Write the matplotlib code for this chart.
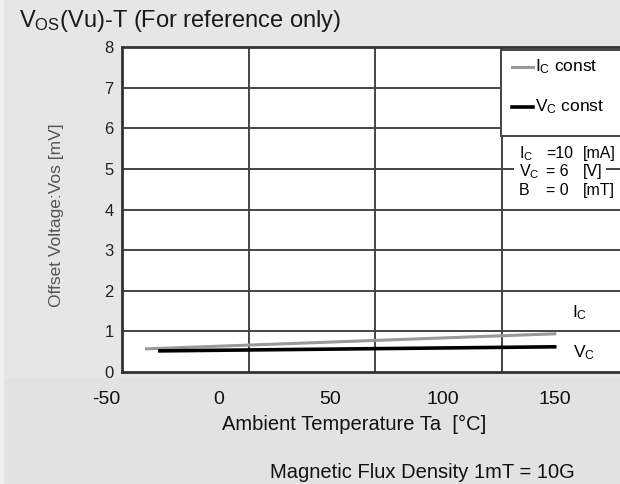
import matplotlib
matplotlib.use("Agg")
import matplotlib.pyplot as plt
from matplotlib.patches import Rectangle
from matplotlib.transforms import blended_transform_factory

plt.rcParams['font.family'] = ['Liberation Sans', 'DejaVu Sans']
plt.rcParams['mathtext.fontset'] = 'custom'
plt.rcParams['mathtext.rm'] = 'Liberation Sans'
plt.rcParams['mathtext.it'] = 'Liberation Sans'

# data (x in degC, y in mV)
ic_temp = [-32, 150]
ic_vos = [0.57, 0.94]
vc_temp = [-26, 150]
vc_vos = [0.52, 0.62]
x_ticks = [-50, 0, 50, 100, 150]
y_ticks = [0, 1, 2, 3, 4, 5, 6, 7, 8]
grid_x = [13.7, 69.8, 126.4]   # vertical grid of the original image, not on the labels

W, H = 620, 484

def fx(px):
    return px / W

def fy(py):
    return 1 - py / H

fig = plt.figure(figsize=(6.2, 4.84), dpi=100)
fig.patch.set_facecolor('#e6e6e6')

ax = fig.add_axes([fx(122), fy(372), fx(622) - fx(122), fy(47) - fy(372)])
ax.set_facecolor('white')
ax.set_xlim(-42.9, 180)
ax.set_ylim(0, 8)

for v in y_ticks[1:-1]:
    ax.axhline(v, color='#444444', lw=1.4, zorder=1)
for g in grid_x:
    ax.axvline(g, color='#444444', lw=1.4, zorder=1)

ax.plot(ic_temp, ic_vos, color='#999999', lw=2.2, zorder=3)
ax.plot(vc_temp, vc_vos, color='black', lw=2.6, zorder=3)

for s in ['left', 'bottom', 'top']:
    ax.spines[s].set_color('#333333')
    ax.spines[s].set_linewidth(2)
ax.spines['right'].set_visible(False)
ax.set_xticks([])
ax.set_yticks(y_ticks)
ax.tick_params(axis='y', length=0, pad=6, labelsize=12, labelcolor='#222222')

# legend box
fig.add_artist(Rectangle((fx(501), fy(136)), fx(630) - fx(501), fy(50) - fy(136),
                         facecolor='white', edgecolor='#444444', lw=1.4, zorder=4))
fig.add_artist(plt.Line2D([fx(512), fx(533)], [fy(67), fy(67)], color='#999999', lw=2.2, zorder=6))
fig.add_artist(plt.Line2D([fx(512), fx(533)], [fy(107), fy(107)], color='black', lw=2.6, zorder=6))
fig.text(fx(535), fy(67), r'I$_\mathregular{C}$ const', fontsize=12.5, va='center', zorder=7)
fig.text(fx(535), fy(107), r'V$_\mathregular{C}$ const', fontsize=12.5, va='center', zorder=7)

# conditions
fig.add_artist(Rectangle((fx(514), fy(180)), fx(606) - fx(514), fy(160) - fy(180),
                         facecolor='white', edgecolor='none', zorder=5))
rows = [(158, r'I$_\mathregular{C}$', '=10', '[mA]'),
        (176, r'V$_\mathregular{C}$', '= 6', '[V]'),
        (195, 'B', '= 0', '[mT]')]
for yb, name, val, unit in rows:
    fig.text(fx(519), fy(yb), name, fontsize=11.5, va='baseline', zorder=7)
    fig.text(fx(546), fy(yb), val, fontsize=11.5, va='baseline', zorder=7)
    fig.text(fx(583), fy(yb), unit, fontsize=11.5, va='baseline', zorder=7)

fig.text(fx(580), fy(313), r'I$_\mathregular{C}$', fontsize=12.5, ha='center', va='center', zorder=7)
fig.text(fx(584), fy(353), r'V$_\mathregular{C}$', fontsize=12.5, ha='center', va='center', zorder=7)

# lower band over the picture
fig.add_artist(Rectangle((0, 0), 1, fy(378), facecolor='#e2e2e2', edgecolor='none', zorder=10))
fig.add_artist(Rectangle((0, 0), fx(4), 1, facecolor='#f0f0f0', edgecolor='none', zorder=11))

tr = blended_transform_factory(ax.transData, fig.transFigure)
for t in x_ticks:
    fig.text(t, fy(400), str(t), transform=tr, fontsize=14, ha='center', va='center',
             color='#111111', zorder=12)
fig.text(fx(354), fy(424), 'Ambient Temperature Ta  [°C]', fontsize=14.5, ha='center',
         va='center', color='#111111', zorder=12)
fig.text(fx(422), fy(472), 'Magnetic Flux Density 1mT = 10G', fontsize=14.5, ha='center',
         va='center', color='#111111', zorder=12)

fig.text(fx(57), fy(215), 'Offset Voltage:Vos [mV]', fontsize=12.5, rotation=90,
         ha='center', va='center', color='#555555')
fig.text(fx(19), fy(21), r'V$_\mathregular{OS}$(Vu)-T (For reference only)', fontsize=17,
         va='center', color='#1a1a1a')

fig.savefig('out.png', dpi=100, facecolor=fig.get_facecolor())
